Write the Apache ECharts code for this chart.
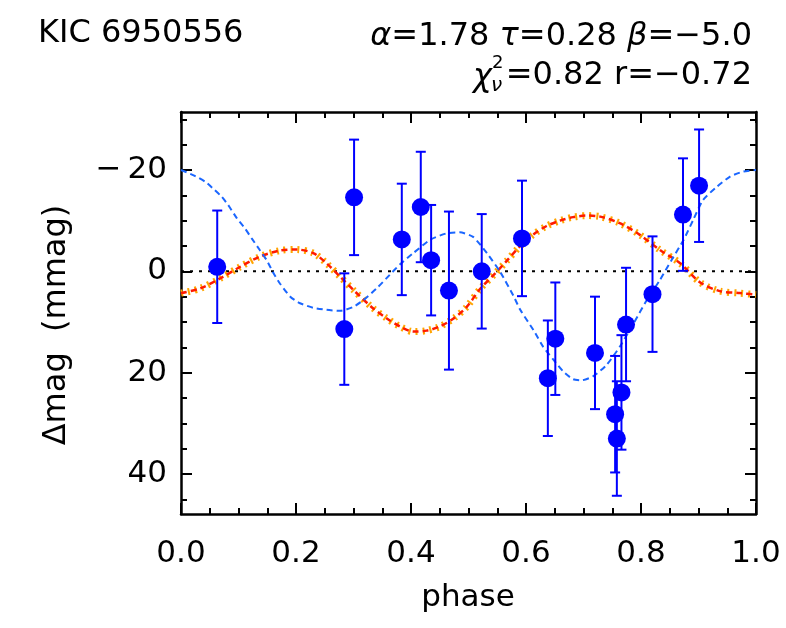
<!DOCTYPE html>
<html>
<head>
<meta charset="utf-8">
<title>KIC 6950556</title>
<script src="https://cdn.jsdelivr.net/npm/echarts@6/dist/echarts.min.js"></script>
<style>
  html, body { margin: 0; padding: 0; background: #fff; }
  #chart { width: 786px; height: 628px; }
</style>
</head>
<body>
<div id="chart"></div>
<script>
// observed points
const phase = [0.063, 0.284, 0.301, 0.384, 0.417, 0.435, 0.466, 0.523, 0.593, 0.638,
  0.651, 0.720, 0.755, 0.758, 0.766, 0.774, 0.820, 0.873, 0.901]
const dmag = [-0.9, 11.4, -14.6, -6.3, -12.7, -2.2, 3.8, 0.0, -6.5, 21.1,
  13.3, 16.1, 28.2, 33.0, 23.9, 10.5, 4.5, -11.2, -16.9]
const dmagErr = [11.1, 11.0, 11.4, 11.0, 10.9, 10.9, 15.6, 11.3, 11.4, 11.4,
  11.1, 11.1, 11.5, 11.3, 11.3, 11.2, 11.4, 11.1, 11.1]

// blue dashed curve
const curvePhase = [0, 0.021, 0.042, 0.059, 0.071, 0.082, 0.097, 0.111, 0.123, 0.137,
  0.149, 0.161, 0.172, 0.190, 0.207, 0.230, 0.253, 0.277, 0.300, 0.317,
  0.340, 0.363, 0.381, 0.404, 0.433, 0.462, 0.485, 0.508, 0.532, 0.555,
  0.578, 0.590, 0.613, 0.630, 0.648, 0.665, 0.682, 0.697, 0.717, 0.740,
  0.763, 0.787, 0.810, 0.833, 0.853, 0.874, 0.891, 0.908, 0.932, 0.955,
  0.978, 1.0]
const curveMag = [-20.0, -19.0, -17.7, -16.0, -14.7, -13.1, -10.5, -8.5, -6.5, -4.2,
  -2.2, 0.4, 2.4, 5.0, 6.3, 7.2, 7.6, 7.8, 7.0, 5.7,
  3.4, 0.7, -1.4, -3.6, -6.2, -7.5, -7.7, -6.8, -3.6, 0.1,
  4.8, 7.6, 11.6, 14.9, 17.5, 19.8, 21.3, 21.5, 20.7, 18.5,
  14.9, 10.3, 5.7, 1.7, -2.2, -6.2, -10.2, -14.1, -16.7, -18.7,
  -19.7, -20.0]

// red / orange curve
const fitPhase = [0, 0.033, 0.068, 0.103, 0.137, 0.172, 0.201, 0.230, 0.253, 0.277,
  0.300, 0.334, 0.358, 0.381, 0.404, 0.427, 0.450, 0.474, 0.497, 0.520,
  0.543, 0.566, 0.589, 0.612, 0.635, 0.659, 0.682, 0.705, 0.729, 0.763,
  0.798, 0.833, 0.868, 0.903, 0.937, 0.972, 1.0]
const fitMag = [4.3, 3.4, 1.4, -0.9, -2.9, -4.1, -4.3, -3.6, -1.6, 1.1,
  3.7, 7.3, 9.3, 10.9, 11.9, 11.7, 10.9, 9.3, 7.0, 3.5,
  0.8, -2.0, -4.9, -7.2, -8.9, -10.0, -10.7, -11.0, -10.8, -9.5,
  -7.2, -4.2, -1.6, 2.2, 3.9, 4.3, 4.6]

const xTicks = [0, 0.2, 0.4, 0.6, 0.8, 1.0]
const yTicks = [-20, 0, 20, 40]
const yMinorTicks = [-30, -25, -15, -10, -5, 5, 10, 15, 25, 30, 35, 45]

const FONT = '"DejaVu Sans", "Liberation Sans", sans-serif'
const BLACK = '#000'

const zip = (a, b) => a.map((v, i) => [v, b[i]])

const chart = echarts.init(document.getElementById('chart'))

function yAxisOf(position, ticks, len, showLine, showLabel) {
  return {
    type: 'value',
    position: position,
    inverse: true,
    min: -31.45,
    max: 47.9,
    splitLine: { show: false },
    axisLine: { show: showLine, onZero: false, lineStyle: { color: BLACK, width: 2.5 } },
    axisTick: {
      show: true, inside: true, length: len, customValues: ticks,
      lineStyle: { color: BLACK, width: 2 }
    },
    axisLabel: {
      show: showLabel, customValues: ticks, margin: 14,
      color: BLACK, fontFamily: FONT, fontSize: 31,
      formatter: v => String(v).replace('-', '\u2212\u2009')
    }
  }
}

function xAxisOf(position, showLabel) {
  return {
    type: 'value',
    position: position,
    min: 0,
    max: 1,
    interval: 0.2,
    splitLine: { show: false },
    axisLine: { show: true, onZero: false, lineStyle: { color: BLACK, width: 2.5 } },
    axisTick: { show: true, inside: true, length: 11, lineStyle: { color: BLACK, width: 2 } },
    minorTick: { show: true, splitNumber: 4, length: 6, lineStyle: { color: BLACK, width: 2 } },
    axisLabel: {
      show: showLabel, margin: 24, color: BLACK, fontFamily: FONT, fontSize: 31,
      formatter: v => v.toFixed(1)
    }
  }
}

const options = {
  animation: false,
  backgroundColor: '#fff',
  grid: { left: 181, top: 112, width: 575, height: 402 },
  xAxis: [xAxisOf('bottom', true), xAxisOf('top', false)],
  yAxis: [
    yAxisOf('left', yTicks, 11, true, true),
    yAxisOf('left', yMinorTicks, 6, false, false),
    yAxisOf('right', yTicks, 11, true, false),
    yAxisOf('right', yMinorTicks, 6, false, false)
  ],
  graphic: [
    {
      type: 'text', left: 38, top: 18,
      style: { text: 'KIC 6950556', fill: BLACK, font: '32px ' + FONT }
    },
    {
      type: 'text', x: 752, y: 37,
      style: {
        text: '{g|α}=1.78 {g|τ}=0.28 {g|β}=\u22125.0',
        fill: BLACK, font: '32px ' + FONT,
        textAlign: 'right', textVerticalAlign: 'middle',
        rich: { g: { fontStyle: 'italic', fontSize: 32, fontFamily: FONT } }
      }
    },
    {
      type: 'text', x: 752, y: 76,
      style: {
        text: '=0.82 r=\u22120.72', fill: BLACK, font: '32px ' + FONT,
        textAlign: 'right', textVerticalAlign: 'middle'
      }
    },
    {
      type: 'text', x: 492, y: 78,
      style: {
        text: 'χ', fill: BLACK, font: 'italic 32px ' + FONT,
        textAlign: 'right', textVerticalAlign: 'middle'
      }
    },
    {
      type: 'text', x: 492, y: 63,
      style: { text: '2', fill: BLACK, font: '18px ' + FONT, textVerticalAlign: 'middle' }
    },
    {
      type: 'text', x: 491, y: 86,
      style: { text: 'ν', fill: BLACK, font: 'italic 20px ' + FONT, textVerticalAlign: 'middle' }
    },
    {
      type: 'text', x: 57, y: 325, rotation: Math.PI / 2,
      style: {
        text: 'Δmag  (mmag)', fill: BLACK, font: '32px ' + FONT,
        textAlign: 'center', textVerticalAlign: 'middle'
      }
    },
    {
      type: 'text', x: 468, y: 598,
      style: {
        text: 'phase', fill: BLACK, font: '31px ' + FONT,
        textAlign: 'center', textVerticalAlign: 'middle'
      }
    }
  ],
  series: [
    {
      name: 'zero',
      type: 'line',
      data: [[0, 0], [1, 0]],
      symbol: 'none',
      lineStyle: { color: BLACK, width: 2, type: [3, 6] },
      z: 1
    },
    {
      name: 'band',
      type: 'line',
      data: zip(fitPhase, fitMag),
      symbol: 'none',
      smooth: 0.3,
      lineStyle: { color: '#ffa500', width: 7, type: [2, 5] },
      z: 2
    },
    {
      name: 'fit',
      type: 'line',
      data: zip(fitPhase, fitMag),
      symbol: 'none',
      smooth: 0.3,
      lineStyle: { color: '#ff1a00', width: 2.5, type: [6, 4] },
      z: 3
    },
    {
      name: 'model',
      type: 'line',
      data: zip(curvePhase, curveMag),
      symbol: 'none',
      smooth: 0.2,
      lineStyle: { color: '#1a66ff', width: 2, type: [6, 4] },
      z: 3
    },
    {
      name: 'errors',
      type: 'custom',
      data: phase.map((p, i) => [p, dmag[i] - dmagErr[i], dmag[i] + dmagErr[i]]),
      renderItem(params, api) {
        const top = api.coord([api.value(0), api.value(1)])
        const bot = api.coord([api.value(0), api.value(2)])
        const cap = 5
        const style = { stroke: '#0000ff', lineWidth: 2 }
        return {
          type: 'group',
          children: [
            { type: 'line', shape: { x1: top[0], y1: top[1], x2: bot[0], y2: bot[1] }, style },
            { type: 'line', shape: { x1: top[0] - cap, y1: top[1], x2: top[0] + cap, y2: top[1] }, style },
            { type: 'line', shape: { x1: bot[0] - cap, y1: bot[1], x2: bot[0] + cap, y2: bot[1] }, style }
          ]
        }
      },
      z: 4
    },
    {
      name: 'data',
      type: 'scatter',
      data: zip(phase, dmag),
      symbol: 'circle',
      symbolSize: 18,
      itemStyle: { color: '#0000ff', opacity: 1 },
      z: 5
    }
  ]
}

chart.setOption(options, true)
</script>
</body>
</html>
